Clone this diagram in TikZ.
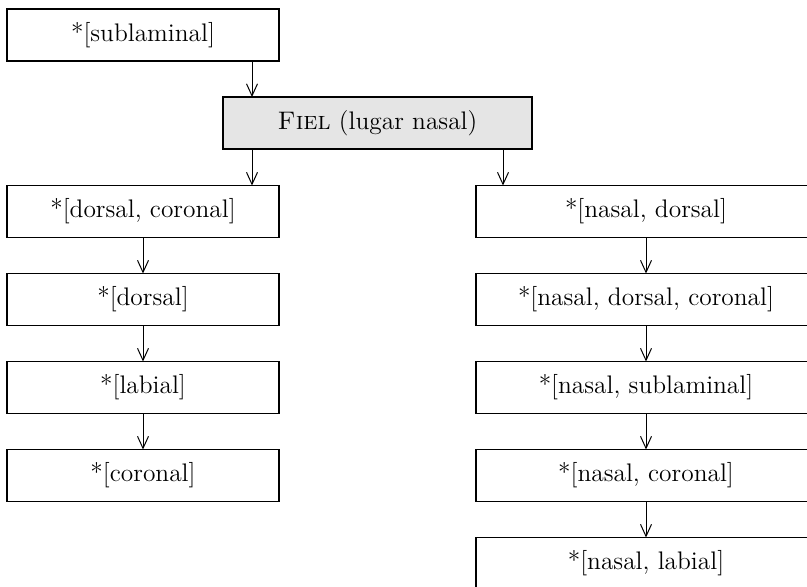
\documentclass[tikz,border=0pt]{standalone}
\usetikzlibrary{arrows.meta}
\begin{document}
\begin{tikzpicture}[x=0.5pt,y=-0.5pt,
  box/.style={draw,line width=0.55pt,inner sep=0pt,outer sep=0pt,
    minimum height=26pt,font=\fontsize{12.7}{14}\selectfont},
  lbox/.style={box,minimum width=136pt},
  rbox/.style={box,minimum width=170pt},
  gbox/.style={box,line width=0.8pt,fill=black!10,minimum width=154.5pt},
  arr/.style={-{Straight Barb[length=6pt,width=5.5pt]},line width=0.5pt}]
\clip (0,0) rectangle (807,587);
% left column
\node[lbox] (sub) at (143,35) {*[sublaminal]};
\node[gbox] (fiel) at (377.5,123) {\textsc{Fiel} (lugar nasal)};
\node[lbox] (l1) at (143,211.5) {*[dorsal, coronal]};
\node[lbox] (l2) at (143,299.5) {*[dorsal]};
\node[lbox] (l3) at (143,387.5) {*[labial]};
\node[lbox] (l4) at (143,475.5) {*[coronal]};
% right column
\node[rbox] (r1) at (646,211.5) {*[nasal, dorsal]};
\node[rbox] (r2) at (646,299.5) {*[nasal, dorsal, coronal]};
\node[rbox] (r3) at (646,387.5) {*[nasal, sublaminal]};
\node[rbox] (r4) at (646,475.5) {*[nasal, coronal]};
\node[rbox] (r5) at (646,563.5) {*[nasal, labial]};
% connector columns
\coordinate (ca) at (252,0);
\coordinate (cb) at (503,0);
\draw[arr] (sub.south -| ca) -- (fiel.north -| ca);
\draw[arr] (fiel.south -| ca) -- (l1.north -| ca);
\draw[arr] (fiel.south -| cb) -- (r1.north -| cb);
\draw[arr] (l1) -- (l2);
\draw[arr] (l2) -- (l3);
\draw[arr] (l3) -- (l4);
\draw[arr] (r1) -- (r2);
\draw[arr] (r2) -- (r3);
\draw[arr] (r3) -- (r4);
\draw[arr] (r4) -- (r5);
\end{tikzpicture}
\end{document}
